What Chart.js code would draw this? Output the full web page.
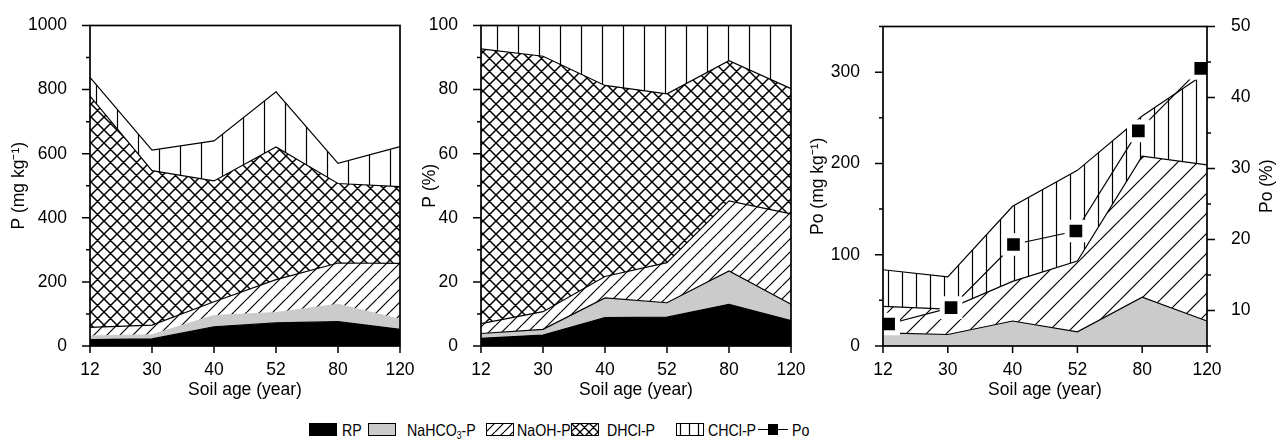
<!DOCTYPE html>
<html><head><meta charset="utf-8">
<script src="https://cdn.jsdelivr.net/npm/chart.js@4.4.1/dist/chart.umd.min.js"></script>
<style>
html,body{margin:0;padding:0;background:#fff;}
body{width:1276px;height:439px;position:relative;overflow:hidden;font-family:'Liberation Sans',Arial,sans-serif;}
canvas.ch{position:absolute;top:0;}
.sw{position:absolute;top:423px;}
.lt{position:absolute;top:422px;font-size:16.5px;line-height:1;transform:scaleX(0.86);transform-origin:0 50%;white-space:nowrap;color:#000;}
.lt sub{font-size:10px;vertical-align:-3px;line-height:0;}
</style></head>
<body>
<canvas id="c1" class="ch" width="425" height="410" style="left:0px"></canvas>
<canvas id="c2" class="ch" width="411" height="410" style="left:405px"></canvas>
<canvas id="c3" class="ch" width="476" height="410" style="left:800px"></canvas>

<canvas id="s1" class="sw" width="28" height="13" style="left:309px"></canvas>
<div class="lt" style="left:342px">RP</div>
<canvas id="s2" class="sw" width="28" height="13" style="left:368px"></canvas>
<div class="lt" style="left:407px">NaHCO<sub>3</sub>-P</div>
<canvas id="s3" class="sw" width="28" height="13" style="left:486px"></canvas>
<div class="lt" style="left:517px">NaOH-P</div>
<canvas id="s4" class="sw" width="28" height="13" style="left:571px"></canvas>
<div class="lt" style="left:607px">DHCl-P</div>
<canvas id="s5" class="sw" width="28" height="13" style="left:676px"></canvas>
<div class="lt" style="left:708px">CHCl-P</div>
<canvas id="s6" class="sw" width="30" height="13" style="left:758px"></canvas>
<div class="lt" style="left:792px">Po</div>

<script>
// ---------------- DATA ----------------
const categories = ['12', '30', '40', '52', '80', '120'];

// Panel 1: P fractions (mg kg-1)
const rpMg     = [20, 22, 60, 72, 76, 52];
const nahco3Mg = [11, 13, 35, 32, 54, 31];
const naohMg   = [27, 30, 43, 103, 129, 175];
const dhclMg   = [722, 482, 377, 414, 248, 239];
const chclMg   = [58, 64, 125, 172, 63, 125];

// Panel 2: P fractions (%)
const rpPct     = [2.4, 3.4, 8.9, 9.0, 13.0, 7.9];
const nahco3Pct = [1.5, 1.8, 6.1, 4.5, 10.4, 5.1];
const naohPct   = [3.1, 5.5, 6.7, 12.5, 21.9, 28.2];
const dhclPct   = [85.7, 79.7, 59.6, 52.7, 43.7, 39.1];
const chclPct   = [7.3, 9.6, 18.7, 21.3, 11.0, 19.7];

// Panel 3: Po fractions (mg kg-1) and Po (%)
const nahco3Po = [14.4, 12.6, 27.4, 15.5, 53.4, 27.4];
const naohPo   = [29.1, 27.9, 43.4, 77.5, 154.6, 171.1];
const chclPo   = [40.0, 35.3, 82.2, 99.4, 44.0, 101.5];
const poPct    = [8.1, 10.4, 19.3, 21.2, 35.3, 44.1];

// Tick labels
const yLabels1  = [0, 200, 400, 600, 800, 1000];
const yLabels2  = [0, 20, 40, 60, 80, 100];
const yLabels3  = [0, 100, 200, 300];
const y2Labels3 = [10, 20, 30, 40, 50];

// ---------------- STYLE ----------------
const FONT = "'Liberation Sans', Arial, sans-serif";
Chart.defaults.font.family = FONT;
Chart.defaults.font.size = 17.5;
Chart.defaults.color = '#000';
const GRAY = '#cbcbcb';

function hatch(kind, s, ox, lw) {
  const c = document.createElement('canvas');
  c.width = s; c.height = s;
  const g = c.getContext('2d');
  g.fillStyle = '#fff'; g.fillRect(0, 0, s, s);
  g.strokeStyle = '#000'; g.lineWidth = lw || 1.2;
  g.beginPath();
  if (kind === 'diag' || kind === 'cross') {
    for (const k of [-s, 0, s]) { g.moveTo(k, s); g.lineTo(k + s, 0); }
  }
  if (kind === 'cross') {
    for (const k of [-s, 0, s]) { g.moveTo(k, 0); g.lineTo(k + s, s); }
  }
  if (kind === 'vert') {
    const x = Math.floor(s / 2) + 0.5;
    g.moveTo(x, 0); g.lineTo(x, s);
  }
  g.stroke();
  const p = g.createPattern(c, 'repeat');
  if (ox) p.setTransform(new DOMMatrix([1, 0, 0, 1, ox, 0]));
  return p;
}

const axesPlugin = {
  id: 'axesFrame',
  afterDatasetsDraw(chart, args, o) {
    const {ctx, chartArea: a} = chart;
    ctx.save();
    ctx.strokeStyle = '#000';
    ctx.lineWidth = 1.7;
    ctx.strokeRect(a.left, a.top, a.right - a.left, a.bottom - a.top);
    ctx.lineWidth = 1.5;
    ctx.beginPath();
    for (const s of Object.values(chart.scales)) {
      if (!s.options.display) continue;
      if (s.axis === 'x') {
        s.ticks.forEach((t, i) => {
          const px = s.getPixelForTick(i);
          ctx.moveTo(px, a.bottom); ctx.lineTo(px, a.bottom + 7);
        });
      } else {
        const major = o.major[s.id];
        const side = s.options.position === 'right' ? 1 : -1;
        const edge = side > 0 ? a.right : a.left;
        s.ticks.forEach(t => {
          const py = s.getPixelForValue(t.value);
          const r = Math.abs(t.value / major - Math.round(t.value / major));
          const len = r < 1e-6 ? 8 : 4;
          ctx.moveTo(edge, py); ctx.lineTo(edge + side * len, py);
        });
      }
    }
    ctx.stroke();
    if (o.rightTitle) {
      ctx.fillStyle = '#000';
      ctx.font = '17.5px ' + FONT;
      ctx.textAlign = 'center';
      ctx.textBaseline = 'middle';
      ctx.translate(o.rightTitle.x, (a.top + a.bottom) / 2);
      ctx.rotate(-Math.PI / 2);
      ctx.fillText(o.rightTitle.text, 0, 0);
    }
    ctx.restore();
  }
};

function xScale() {
  return {
    type: 'category', labels: categories, offset: false,
    grid: {display: false, offset: false}, border: {display: false},
    ticks: {padding: 6, maxRotation: 0, autoSkip: false},
    title: {display: true, text: 'Soil age (year)', padding: {top: 0, bottom: 5}},
    afterFit: s => { s.height = 60; }
  };
}
function yScale(min, max, step, labels, title, width, titlePad) {
  return {
    stacked: true, min: min, max: max,
    grid: {display: false}, border: {display: false},
    ticks: {stepSize: step, padding: 15, callback: v => labels.includes(v) ? String(v) : ''},
    title: {display: true, text: title, padding: {top: titlePad, bottom: 0}},
    afterFit: s => { s.width = width; }
  };
}
function area(label, data, bg, border, fill) {
  return {label, data, backgroundColor: bg, borderColor: border, borderWidth: 1.2,
          pointRadius: 0, tension: 0, fill: fill};
}

// ---------------- PANEL 1 ----------------
new Chart(document.getElementById('c1'), {
  type: 'line',
  data: {
    labels: categories,
    datasets: [
      area('RP', rpMg, '#000', '#000', 'origin'),
      area('NaHCO3-P', nahco3Mg, GRAY, GRAY, '-1'),
      area('NaOH-P', naohMg, hatch('diag', 13, 0), '#000', '-1'),
      area('DHCl-P', dhclMg, hatch('cross', 13, 0, 1.5), '#000', '-1'),
      area('CHCl-P', chclMg, hatch('vert', 21, 2), '#000', '-1')
    ]
  },
  options: {
    responsive: false, animation: false,
    layout: {padding: {left: 0, right: 25, top: 24, bottom: 4}},
    plugins: {legend: {display: false}, tooltip: {enabled: false},
              axesFrame: {major: {y: 200}}},
    scales: {x: xScale(), y: yScale(0, 1000, 100, yLabels1, 'P (mg kg\u207B\u00B9)', 90, 8.5)}
  },
  plugins: [axesPlugin]
});

// ---------------- PANEL 2 ----------------
new Chart(document.getElementById('c2'), {
  type: 'line',
  data: {
    labels: categories,
    datasets: [
      area('RP', rpPct, '#000', '#000', 'origin'),
      area('NaHCO3-P', nahco3Pct, GRAY, '#000', '-1'),
      area('NaOH-P', naohPct, hatch('diag', 13, 0), '#000', '-1'),
      area('DHCl-P', dhclPct, hatch('cross', 13, 0, 1.5), '#000', '-1'),
      area('CHCl-P', chclPct, hatch('vert', 21, -2), '#000', '-1')
    ]
  },
  options: {
    responsive: false, animation: false,
    layout: {padding: {left: 0, right: 25, top: 24, bottom: 4}},
    plugins: {legend: {display: false}, tooltip: {enabled: false},
              axesFrame: {major: {y: 20}}},
    scales: {x: xScale(), y: yScale(0, 100, 10, yLabels2, 'P (%)', 76, 14.5)}
  },
  plugins: [axesPlugin]
});

// ---------------- PANEL 3 ----------------
const y3 = yScale(0, 350, 50, yLabels3, 'Po (mg kg\u207B\u00B9)', 83, 7.5);
new Chart(document.getElementById('c3'), {
  type: 'line',
  data: {
    labels: categories,
    datasets: [
      area('NaHCO3-Po', nahco3Po, GRAY, '#000', 'origin'),
      area('NaOH-Po', naohPo, hatch('diag', 20, 0), '#000', '-1'),
      area('CHCl-Po', chclPo, hatch('vert', 14, -3), '#000', '-1'),
      {
        label: 'Po', data: poPct.map((v, i) => ({x: i, y: v})),
        xAxisID: 'x2', yAxisID: 'y2', order: -1, clip: false,
        borderColor: '#000', borderWidth: 1.2, tension: 0, fill: false,
        pointStyle: 'rect', pointRadius: 12.5, pointBackgroundColor: '#000',
        pointBorderColor: '#fff', pointBorderWidth: 5
      }
    ]
  },
  options: {
    responsive: false, animation: false,
    layout: {padding: {left: 0, right: 0, top: 24, bottom: 4}},
    plugins: {legend: {display: false}, tooltip: {enabled: false},
              axesFrame: {major: {y: 100, y2: 10}, rightTitle: {x: 467, text: 'Po (%)'}}},
    scales: {
      x: xScale(),
      x2: {type: 'linear', display: false, min: -0.09, max: 5.1},
      y: y3,
      y2: {
        position: 'right', min: 5, max: 50,
        grid: {display: false}, border: {display: false},
        ticks: {stepSize: 5, padding: 16, callback: v => y2Labels3.includes(v) ? String(v) : ''},
        afterFit: s => { s.width = 69; }
      }
    }
  },
  plugins: [axesPlugin]
});

// ---------------- LEGEND SWATCHES ----------------
function swatch(id, fill) {
  const c = document.getElementById(id), g = c.getContext('2d');
  g.fillStyle = fill; g.fillRect(0, 0, c.width, c.height);
  g.strokeStyle = '#000'; g.lineWidth = 1;
  g.strokeRect(0.5, 0.5, c.width - 1, c.height - 1);
}
swatch('s1', '#000');
swatch('s2', GRAY);
swatch('s3', hatch('diag', 9, 0));
swatch('s4', hatch('cross', 9, 0, 1.3));
swatch('s5', hatch('vert', 9, 0));
(function () {
  const c = document.getElementById('s6'), g = c.getContext('2d');
  g.strokeStyle = '#000'; g.lineWidth = 1.2;
  g.beginPath(); g.moveTo(0, 6.5); g.lineTo(10, 6.5); g.moveTo(20, 6.5); g.lineTo(30, 6.5); g.stroke();
  g.fillStyle = '#000'; g.fillRect(10, 1, 10, 11);
})();
</script>
</body></html>
